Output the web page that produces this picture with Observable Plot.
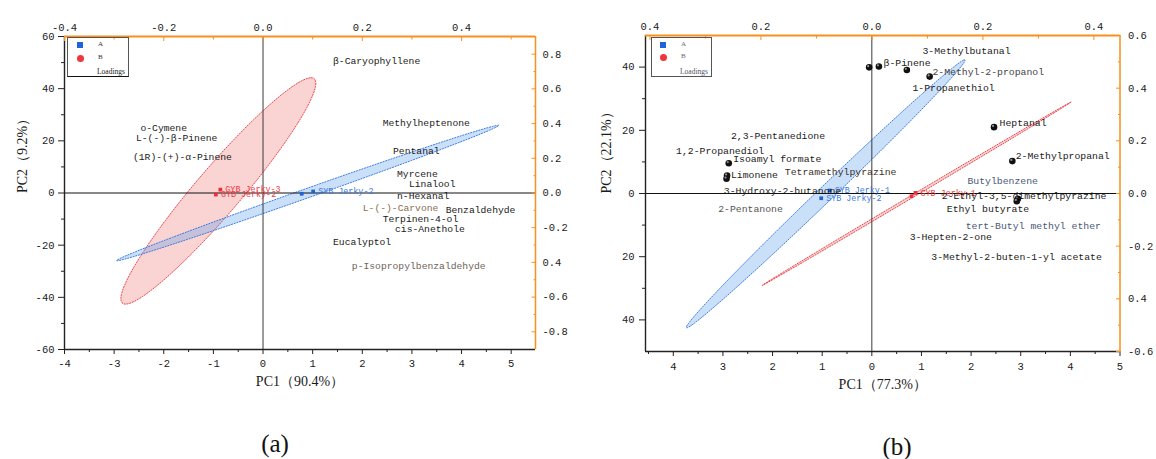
<!DOCTYPE html>
<html>
<head>
<meta charset="utf-8">
<script src="https://cdn.jsdelivr.net/npm/d3@7"></script>
<script src="https://cdn.jsdelivr.net/npm/@observablehq/plot@0.6"></script>
<style>
  html, body { margin: 0; padding: 0; background: #ffffff; }
  #page { position: relative; width: 1156px; height: 459px; overflow: hidden; background: #fff; }
  .layer { position: absolute; top: 0; }
  .layer svg { display: block; }
  .box { position: absolute; box-sizing: border-box; border: 1px solid #555; }
  .lg { position: absolute; font-family: "Liberation Serif", serif; line-height: 1; white-space: nowrap; }
  .sq { position: absolute; width: 6px; height: 6px; background: #1f63d8; }
  .ci { position: absolute; width: 7px; height: 7px; border-radius: 50%; background: #f0353d; }
  .cap { position: absolute; font-family: "Liberation Serif", serif; font-size: 25px; color: #111; transform: translate(-50%, -50%); white-space: nowrap; }
</style>
</head>
<body>
<div id="page">
  <div id="aScores" class="layer" style="left:0px"></div>
  <div id="aLoads" class="layer" style="left:0px"></div>
  <div id="bScores" class="layer" style="left:578px"></div>
  <div id="bLoads" class="layer" style="left:578px"></div>

  <!-- legend (a) -->
  <div class="box" style="left:67px;top:37px;width:62px;height:40px;border-bottom:1.5px solid #111;"></div>
  <div class="sq" style="left:77px;top:42px;"></div>
  <div class="ci" style="left:76.5px;top:54.5px;"></div>
  <div class="lg" style="left:98px;top:41px;font-size:7px;color:#333;">A</div>
  <div class="lg" style="left:98px;top:54px;font-size:7px;color:#333;">B</div>
  <div class="lg" style="left:97px;top:68px;font-size:7.5px;color:#222;">Loadings</div>

  <!-- legend (b) -->
  <div class="box" style="left:651px;top:37px;width:61px;height:40px;"></div>
  <div class="sq" style="left:660px;top:42px;"></div>
  <div class="ci" style="left:659.5px;top:53.5px;"></div>
  <div class="lg" style="left:681px;top:41px;font-size:7px;color:#667;">A</div>
  <div class="lg" style="left:681px;top:53px;font-size:7px;color:#667;">B</div>
  <div class="lg" style="left:680px;top:67.5px;font-size:7.5px;color:#556;">Loadings</div>

  <div class="cap" style="left:275px;top:444px;">(a)</div>
  <div class="cap" style="left:897px;top:447px;">(b)</div>
</div>
<script>
// ================= Panel (a) data =================
const aSampleNames = ["GYB Jerky-3", "GYB Jerky-2", "", "SYB Jerky-2"];
const aSampleGroup = ["B", "B", "A", "A"];
const aPC1 = [-0.86, -0.95, 0.78, 1.01];
const aPC2 = [1.3, -0.6, -0.3, 0.6];

const aCompounds = ["β-Caryophyllene", "Methylheptenone", "Pentanal", "Myrcene", "Linalool", "n-Hexanal",
  "L-(-)-Carvone", "Benzaldehyde", "Terpinen-4-ol", "cis-Anethole", "Eucalyptol", "p-Isopropylbenzaldehyde",
  "o-Cymene", "L-(-)-β-Pinene", "(1R)-(+)-α-Pinene"];
const aLoadPC1 = [0.141, 0.241, 0.262, 0.270, 0.294, 0.270, 0.201, 0.368, 0.241, 0.266, 0.141, 0.179, -0.247, -0.256, -0.262];
const aLoadPC2 = [0.764, 0.406, 0.245, 0.112, 0.055, -0.014, -0.084, -0.095, -0.147, -0.205, -0.280, -0.418, 0.378, 0.320, 0.210];

// confidence ellipses: centre, conjugate half-diameters (score units)
const aEllipseGroup = ["B", "A"];
const aEllipseCenter = [[-0.9, 0.8], [0.9, 0.0]];
const aEllipseAxis1 = [[1.87, 43.4], [3.85, 25.9]];
const aEllipseAxis2 = [[0.6, 0], [0, 1.9]];

const aXTicks = [-4, -3, -2, -1, 0, 1, 2, 3, 4, 5];
const aXTickLabels = ["-4", "-3", "-2", "-1", "0", "1", "2", "3", "4", "5"];
const aXMinor = [-3.5, -2.5, -1.5, -0.5, 0.5, 1.5, 2.5, 3.5, 4.5];
const aYTicks = [-60, -40, -20, 0, 20, 40, 60];
const aYTickLabels = ["-60", "-40", "-20", "0", "20", "40", "60"];
const aYMinor = [-50, -30, -10, 10, 30, 50];
const aTopTicks = [-0.4, -0.2, 0, 0.2, 0.4];
const aTopTickLabels = ["-0.4", "-0.2", "0.0", "0.2", "0.4"];
const aTopMinor = [-0.3, -0.1, 0.1, 0.3, 0.5];
const aRightTicks = [-0.8, -0.6, -0.4, -0.2, 0, 0.2, 0.4, 0.6, 0.8];
const aRightTickLabels = ["-0.8", "-0.6", "0.4", "-0.2", "0.0", "0.2", "0.4", "0.6", "0.8"];
const aRightMinor = [-0.7, -0.5, -0.3, -0.1, 0.1, 0.3, 0.5, 0.7];

// ================= Panel (b) data =================
const bSampleNames = ["SYB Jerky-1", "SYB Jerky-2", "GYB Jerky-1", ""];
const bSampleGroup = ["A", "A", "B", "B"];
const bPC1 = [-0.85, -1.02, 0.88, 0.80];
const bPC2 = [0.95, -1.5, 0.2, -0.85];

const bCompounds = ["β-Pinene", "3-Methylbutanal", "2-Methyl-2-propanol", "1-Propanethiol", "Heptanal",
  "2-Methylpropanal", "2,3-Pentanedione", "1,2-Propanediol", "Isoamyl formate", "Limonene",
  "Tetramethylpyrazine", "3-Hydroxy-2-butanone", "2-Pentanone", "Butylbenzene",
  "2-Ethyl-3,5-dimethylpyrazine", "Ethyl butyrate", "tert-Butyl methyl ether", "3-Hepten-2-one",
  "3-Methyl-2-buten-1-yl acetate"];
const bLoadPC1 = [0.021, 0.091, 0.109, 0.073, 0.230, 0.259, -0.254, -0.353, -0.250, -0.254,
  -0.157, -0.267, -0.277, 0.172, 0.126, 0.135, 0.169, 0.068, 0.107];
const bLoadPC2 = [0.497, 0.543, 0.463, 0.402, 0.267, 0.144, 0.220, 0.163, 0.132, 0.072,
  0.081, 0.009, -0.060, 0.049, -0.010, -0.058, -0.121, -0.166, -0.242];

const bMarkerPC1 = [-0.005, 0.0126, 0.0629, 0.104, 0.220, 0.253, -0.258, -0.261, -0.262, 0.263, 0.261];
const bMarkerPC2 = [0.479, 0.482, 0.469, 0.444, 0.252, 0.123, 0.115, 0.068, 0.056, -0.020, -0.029];

const bEllipseGroup = ["B", "A"];
const bEllipseCenter = [[0.9, -0.1], [-0.93, -0.1]];
const bEllipseAxis1 = [[3.11, 29.0], [2.80, 42.4]];
const bEllipseAxis2 = [[0.05, 0], [0.22, 0]];

const bXTicks = [-4, -3, -2, -1, 0, 1, 2, 3, 4, 5];
const bXTickLabels = ["4", "3", "2", "1", "0", "1", "2", "3", "4", "5"];
const bXMinor = [-4.5, -3.5, -2.5, -1.5, -0.5, 0.5, 1.5, 2.5, 3.5, 4.5];
const bYTicks = [-40, -20, 0, 20, 40];
const bYTickLabels = ["40", "20", "0", "20", "40"];
const bYMinor = [-30, -10, 10, 30];
const bTopTicks = [-0.4, -0.2, 0, 0.2, 0.4];
const bTopTickLabels = ["0.4", "0.2", "0.0", "0.2", "0.4"];
const bTopMinor = [-0.3, -0.1, 0.1, 0.3];
const bRightTicks = [-0.6, -0.4, -0.2, 0, 0.2, 0.4, 0.6];
const bRightTickLabels = ["-0.6", "0.4", "-0.2", "0.0", "0.2", "0.4", "0.6"];
const bRightMinor = [-0.5, -0.3, -0.1, 0.1, 0.3, 0.5];

// ================= styling =================
const ORANGE = "#f7901e";
const LABEL_FONT = "Liberation Mono, DejaVu Sans Mono, monospace";
const TICK_FONT = "Liberation Mono, monospace";
const TITLE_FONT = "Liberation Serif, serif";
const groupPoint = {A: "#1f63d8", B: "#ee2f38"};
const groupText = {A: "#3a7ae0", B: "#ee3a42"};
const groupFill = {A: "#5b9be8", B: "#f28b8b"};
const groupStroke = {A: "#2a6fe0", B: "#e8323a"};
const fillOpacity = {A: 0.32, B: 0.38};
const mutedLabels = {
  "L-(-)-Carvone": "#8a6d4f", "p-Isopropylbenzaldehyde": "#6f6358",
  "2-Pentanone": "#555", "Butylbenzene": "#4a5878", "tert-Butyl methyl ether": "#4a5878",
  "2-Methyl-2-propanol": "#444", "Tetramethylpyrazine": "#3a3128"
};

function ellipsePoints(c, u, v) {
  return d3.range(0, 361, 3).map(deg => {
    const t = deg * Math.PI / 180;
    return {x: c[0] + Math.cos(t) * u[0] + Math.sin(t) * v[0],
            y: c[1] + Math.cos(t) * u[1] + Math.sin(t) * v[1]};
  });
}

function xAxis(values, labels, minor, anchor, size, minorSize, pad, stroke) {
  const fmt = d => labels[values.indexOf(d)];
  return [
    Plot.axisX(minor, {anchor, tickSize: minorSize, tickFormat: () => "", label: null, stroke}),
    Plot.axisX(values, {anchor, tickSize: size, tickFormat: () => "", label: null, stroke}),
    Plot.axisX(values, {anchor, tickSize: 0, tickPadding: pad, tickFormat: fmt, label: null, fill: "#1a1a1a"})
  ];
}
function yAxis(values, labels, minor, anchor, size, minorSize, pad, stroke) {
  const fmt = d => labels[values.indexOf(d)];
  return [
    Plot.axisY(minor, {anchor, tickSize: minorSize, tickFormat: () => "", label: null, stroke}),
    Plot.axisY(values, {anchor, tickSize: size, tickFormat: () => "", label: null, stroke}),
    Plot.axisY(values, {anchor, tickSize: 0, tickPadding: pad, tickFormat: fmt, label: null, fill: "#1a1a1a"})
  ];
}

function ellipseMarks(groups, centers, axes1, axes2) {
  return groups.map((g, i) => Plot.line(ellipsePoints(centers[i], axes1[i], axes2[i]), {
    x: "x", y: "y", fill: groupFill[g], fillOpacity: fillOpacity[g],
    stroke: groupStroke[g], strokeWidth: 0.9, strokeDasharray: "1.2,1.6"
  }));
}

function scoresPlot(o) {
  const scores = o.pc1.map((x, i) => ({x, y: o.pc2[i], name: o.names[i], group: o.groups[i]}));
  return Plot.plot({
    width: 578, height: 400,
    marginLeft: o.ml, marginRight: o.mr, marginTop: o.mt, marginBottom: o.mb,
    x: {domain: o.xDomain, label: null},
    y: {domain: o.yDomain, label: null},
    color: {type: "identity"},
    style: {background: "transparent", fontFamily: TICK_FONT, fontSize: "10.5px", color: "#1a1a1a", overflow: "visible"},
    marks: [
      ...ellipseMarks(o.eGroups, o.eCenters, o.eAxes1, o.eAxes2),
      Plot.ruleX([0], {stroke: "#3a3a3a", strokeWidth: 1}),
      Plot.ruleY([0], {stroke: "#111", strokeWidth: 1}),
      Plot.dot(scores, {x: "x", y: "y", symbol: "square", r: 2.1, fill: d => groupPoint[d.group]}),
      Plot.text(scores, {x: "x", y: "y", text: "name", fill: d => groupText[d.group], textAnchor: "start",
        dx: 5, fontFamily: LABEL_FONT, fontSize: 8.4}),
      ...xAxis(o.xTicks, o.xLabels, o.xMinor, "bottom", 5, 3, o.bottomPad, "#222"),
      ...yAxis(o.yTicks, o.yLabels, o.yMinor, "left", 6, 3, o.leftPad, "#222"),
      Plot.ruleX([o.xDomain[0]], {stroke: "#222", strokeWidth: 1.4}),
      Plot.ruleY([o.yDomain[0]], {stroke: "#222", strokeWidth: 1.4}),
      Plot.text([o.xTitle], {frameAnchor: "bottom", dy: o.xTitleDy, fontFamily: TITLE_FONT, fontSize: 14, fill: "#1a1a1a"}),
      Plot.text([o.yTitle], {frameAnchor: "left", dx: o.yTitleDx, rotate: -90, fontFamily: TITLE_FONT, fontSize: 14, fill: "#1a1a1a"})
    ]
  });
}

function loadsPlot(o) {
  const labels = o.names.map((name, i) => ({name, x: o.l1[i], y: o.l2[i]}));
  const markers = (o.m1 || []).map((x, i) => ({x, y: o.m2[i]}));
  return Plot.plot({
    width: 578, height: 400,
    marginLeft: o.ml, marginRight: o.mr, marginTop: o.mt, marginBottom: o.mb,
    x: {domain: o.xDomain, label: null},
    y: {domain: o.yDomain, label: null},
    color: {type: "identity"},
    style: {background: "transparent", fontFamily: TICK_FONT, fontSize: "10.5px", color: "#1a1a1a", overflow: "visible"},
    marks: [
      Plot.dot(markers, {x: "x", y: "y", r: 3.3, fill: "#111"}),
      Plot.dot(markers, {x: "x", y: "y", r: 1.1, fill: "#ffffff", fillOpacity: 0.55, dx: -1, dy: -1.2}),
      Plot.text(labels, {x: "x", y: "y", text: "name", textAnchor: "start",
        fill: d => mutedLabels[d.name] || "#1a1a1a", fontFamily: LABEL_FONT, fontSize: o.fontSize}),
      ...xAxis(o.xTicks, o.xLabels, o.xMinor, "top", -4, -2.5, o.topPad, ORANGE),
      ...yAxis(o.yTicks, o.yLabels, o.yMinor, "right", -4.5, -2.5, o.rightPad, ORANGE),
      Plot.ruleY([o.yDomain[1]], {stroke: ORANGE, strokeWidth: 2}),
      Plot.ruleX([o.xDomain[1]], {stroke: ORANGE, strokeWidth: 1.5})
    ]
  });
}

// ---------- Panel (a) ----------
const aMargins = {ml: 64, mr: 43, mt: 36, mb: 51};
document.getElementById("aScores").append(scoresPlot({
  ...aMargins, xDomain: [-4, 5.49], yDomain: [-60, 60],
  pc1: aPC1, pc2: aPC2, names: aSampleNames, groups: aSampleGroup,
  eGroups: aEllipseGroup, eCenters: aEllipseCenter, eAxes1: aEllipseAxis1, eAxes2: aEllipseAxis2,
  xTicks: aXTicks, xLabels: aXTickLabels, xMinor: aXMinor, bottomPad: 10,
  yTicks: aYTicks, yLabels: aYTickLabels, yMinor: aYMinor, leftPad: 10,
  xTitle: "PC1（90.4%）", xTitleDy: 36, yTitle: "PC2（9.2%）", yTitleDx: -42
}));
document.getElementById("aLoads").append(loadsPlot({
  ...aMargins, xDomain: [-0.4, 0.549], yDomain: [-0.902, 0.902],
  names: aCompounds, l1: aLoadPC1, l2: aLoadPC2, fontSize: 9.7,
  xTicks: aTopTicks, xLabels: aTopTickLabels, xMinor: aTopMinor, topPad: 6,
  yTicks: aRightTicks, yLabels: aRightTickLabels, yMinor: aRightMinor, rightPad: 7
}));

// ---------- Panel (b) ----------
const bMargins = {ml: 67, mr: 36.5, mt: 35, mb: 49};
document.getElementById("bScores").append(scoresPlot({
  ...bMargins, xDomain: [-4.56, 5.0], yDomain: [-50, 50],
  pc1: bPC1, pc2: bPC2, names: bSampleNames, groups: bSampleGroup,
  eGroups: bEllipseGroup, eCenters: bEllipseCenter, eAxes1: bEllipseAxis1, eAxes2: bEllipseAxis2,
  xTicks: bXTicks, xLabels: bXTickLabels, xMinor: bXMinor, bottomPad: 11,
  yTicks: bYTicks, yLabels: bYTickLabels, yMinor: bYMinor, leftPad: 11,
  xTitle: "PC1（77.3%）", xTitleDy: 37, yTitle: "PC2（22.1%）", yTitleDx: -39
}));
document.getElementById("bLoads").append(loadsPlot({
  ...bMargins, xDomain: [-0.408, 0.447], yDomain: [-0.6, 0.6],
  names: bCompounds, l1: bLoadPC1, l2: bLoadPC2, m1: bMarkerPC1, m2: bMarkerPC2, fontSize: 9.8,
  xTicks: bTopTicks, xLabels: bTopTickLabels, xMinor: bTopMinor, topPad: 6,
  yTicks: bRightTicks, yLabels: bRightTickLabels, yMinor: bRightMinor, rightPad: 8
}));
</script>
</body>
</html>
